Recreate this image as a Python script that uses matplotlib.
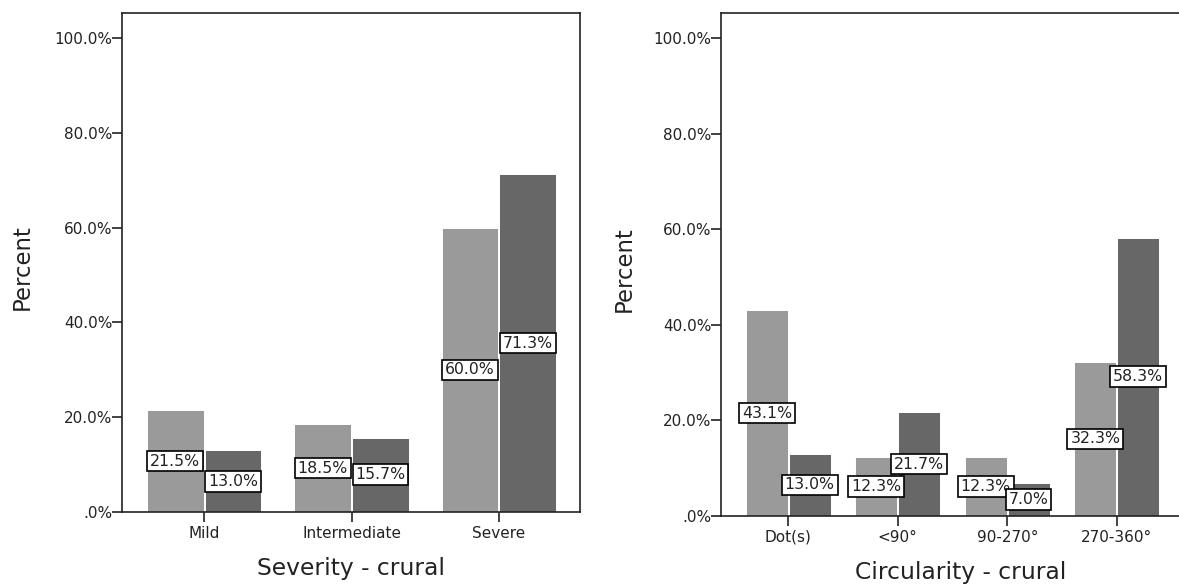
import matplotlib
matplotlib.use("Agg")
import matplotlib.pyplot as plt
import numpy as np

plt.rcParams['font.family'] = ['DejaVu Sans']

LIGHT = '#9a9a9a'
DARK = '#676767'
TXT = '#222222'

sev_cats = ['Mild', 'Intermediate', 'Severe']
sev_light = [21.5, 18.5, 60.0]
sev_dark = [13.0, 15.7, 71.3]

circ_cats = ['Dot(s)', '<90°', '90-270°', '270-360°']
circ_light = [43.1, 12.3, 12.3, 32.3]
circ_dark = [13.0, 21.7, 7.0, 58.3]

yticks = [0, 20, 40, 60, 80, 100]
ytick_labels = ['.0%', '20.0%', '40.0%', '60.0%', '80.0%', '100.0%']

W, H = 1179, 585
fig = plt.figure(figsize=(W / 100, H / 100), dpi=100)


def px_axes(left, right, top, bottom):
    # axes placed in pixel coords of the figure
    return fig.add_axes([left / W, 1 - bottom / H, (right - left) / W, (bottom - top) / H])


def draw_panel(ax, cats, light, dark, xlim, xlabel, ylab_x, xlab_y):
    x = np.arange(len(cats))
    bw = 0.385
    off = 0.196
    ax.bar(x - off, light, width=bw, color=LIGHT, edgecolor='white', linewidth=0.7, zorder=2)
    ax.bar(x + off, dark, width=bw, color=DARK, edgecolor='white', linewidth=0.7, zorder=2)
    box = dict(boxstyle='square,pad=0.18', facecolor='white', edgecolor='black', linewidth=1.2)
    for xs, vals in ((x - off, light), (x + off, dark)):
        for xi, v in zip(xs, vals):
            ax.text(xi, v / 2, '%.1f%%' % v, ha='center', va='center', fontsize=11.3,
                    color=TXT, bbox=box, zorder=3)
    ax.set_xlim(*xlim)
    ax.set_ylim(0, 105.3)
    ax.set_xticks(x)
    ax.set_xticklabels(cats, fontsize=11, color=TXT)
    ax.set_yticks(yticks)
    ax.set_yticklabels(ytick_labels, fontsize=11, color=TXT)
    ax.tick_params(axis='y', direction='out', length=7, width=1.2, color='#222222', pad=0)
    ax.tick_params(axis='x', direction='out', length=7, width=1.2, color='#222222', pad=3)
    for s in ax.spines.values():
        s.set_linewidth(1.2)
        s.set_color('#222222')
    ax.set_xlabel(xlabel, fontsize=16.8, color=TXT, va='center')
    ax.xaxis.set_label_coords(0.5, xlab_y)
    ax.set_ylabel('Percent', fontsize=16.4, color=TXT, va='center')
    ax.yaxis.set_label_coords(ylab_x, 0.49)


# left panel: axes box 122..580 x, 13..512 y (px)
ax1 = px_axes(122, 580, 13, 512)
draw_panel(ax1, sev_cats, sev_light, sev_dark, (-0.557, 2.55),
           'Severity - crural', (22 - 122) / 458, (512 - 569) / 499)

# right panel runs past the right edge of the figure
ax2 = px_axes(721, 1200, 13, 516)
draw_panel(ax2, circ_cats, circ_light, circ_dark, (-0.614, 3.76),
           'Circularity - crural', (624 - 721) / 479, (516 - 573) / 503)

fig.savefig('out.png', dpi=100)
